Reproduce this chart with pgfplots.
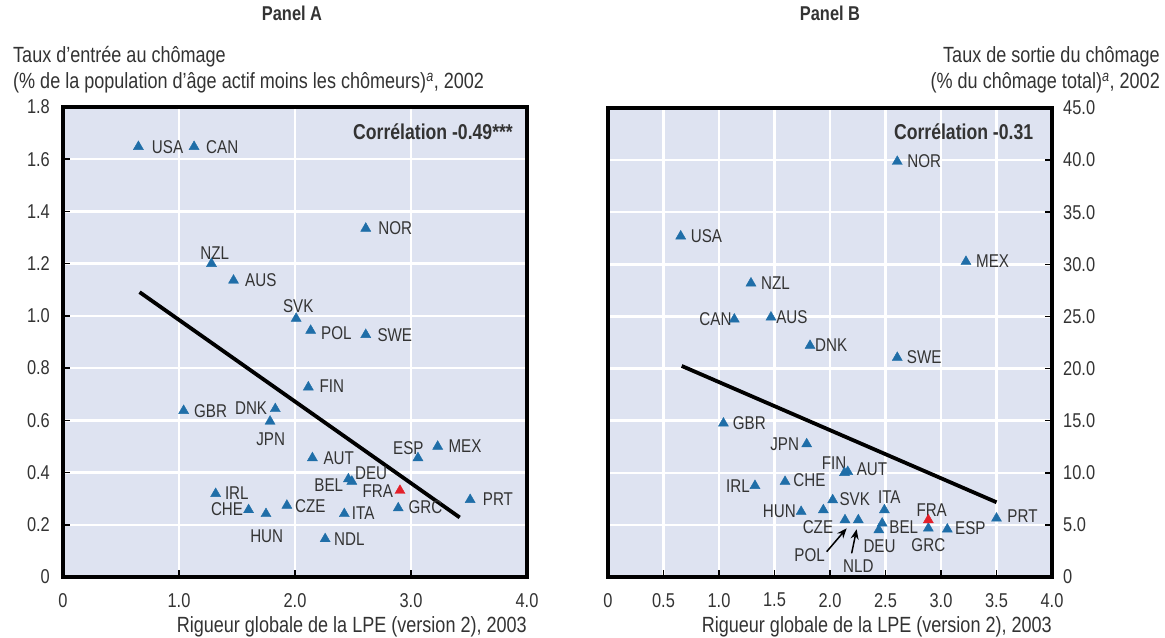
\documentclass[border=0pt]{standalone}
\usepackage{pgfplots}
\pgfplotsset{compat=1.18}
\usetikzlibrary{arrows.meta}
\usepackage{fontspec}
\setmainfont[FakeStretch=0.82]{Liberation Sans}
\definecolor{bg}{HTML}{DEE3F1}
\definecolor{tri}{HTML}{1F6EA8}
\definecolor{fra}{HTML}{E3202A}
\definecolor{txt}{HTML}{333333}
\newcommand{\fs}{\fontsize{18.5}{22}\selectfont}
\newcommand{\ft}{\fontsize{20}{24}\selectfont}
\newcommand{\fl}{\fontsize{22}{26}\selectfont}
\tikzset{lab/.style={font=\fs, text=txt, inner sep=0pt},
         big/.style={font=\fl, text=txt, inner sep=0pt}}
\pgfplotsset{
  myaxis/.style={
    scale only axis, anchor=south west,
    axis background/.style={fill=bg},
    axis line style={draw=none},
    grid=major, grid style={white, line width=2.5pt},
    tick style={black, line width=1.5pt}, major tick length=7pt, tick align=inside,
    /pgf/number format/assume math mode=true,
    ticklabel style={font=\ft, text=txt, inner sep=0pt},
    clip=false,
  },
  tri/.style={only marks, mark=triangle*, mark size=5.8pt, color=tri},
  frap/.style={only marks, mark=triangle*, mark size=5.8pt, color=fra},
}
\begin{document}
\begin{tikzpicture}[x=1pt,y=1pt]
\path (0,0) rectangle (1165,637);
% ---------------- Panel A ----------------
\begin{axis}[myaxis, at={(63pt,60pt)}, width=464pt, height=470pt,
  xmin=0, xmax=4, ymin=0, ymax=1.8,
  xtick={0,1,2,3,4}, xticklabels={0,1.0,2.0,3.0,4.0},
  ytick={0,0.2,0.4,0.6,0.8,1.0,1.2,1.4,1.6,1.8},
  yticklabels={0,0.2,0.4,0.6,0.8,1.0,1.2,1.4,1.6,1.8},
  xtick pos=bottom, ytick pos=left,
  xticklabel style={anchor=north, yshift=-16pt},
  yticklabel style={anchor=east, xshift=-13pt},
]
\addplot[tri] table[row sep=\\] {
x y\\
0.65 1.648\\ 1.13 1.648\\ 2.61 1.335\\ 1.28 1.20\\ 1.47 1.136\\
2.01 0.99\\ 2.135 0.944\\ 2.61 0.928\\ 2.115 0.727\\ 1.04 0.637\\
1.83 0.644\\ 1.785 0.596\\ 2.15 0.456\\ 3.06 0.456\\ 3.23 0.50\\
2.46 0.375\\ 2.49 0.366\\ 1.316 0.319\\ 3.51 0.296\\ 1.93 0.274\\
1.60 0.257\\ 2.89 0.264\\ 1.75 0.242\\ 2.425 0.242\\ 2.26 0.146\\
};
\addplot[frap] table[row sep=\\] {x y\\ 2.905 0.331\\};
\addplot[black, line width=3.8pt, no marks] table[row sep=\\] {x y\\ 0.66 1.091\\ 3.42 0.228\\};
\draw[black, line width=3.5pt] (rel axis cs:0,0) rectangle (rel axis cs:1,1);
\node[lab, anchor=east, font=\fontsize{21.5}{25}\selectfont\bfseries] at (axis cs:3.88,1.707) {Corrélation -0.49***};
\node[lab, anchor=west] at (axis cs:0.765,1.648) {USA};
\node[lab, anchor=west] at (axis cs:1.233,1.648) {CAN};
\node[lab, anchor=west] at (axis cs:2.718,1.335) {NOR};
\node[lab] at (axis cs:1.308,1.24) {NZL};
\node[lab, anchor=west] at (axis cs:1.569,1.136) {AUS};
\node[lab] at (axis cs:2.028,1.038) {SVK};
\node[lab, anchor=west] at (axis cs:2.224,0.935) {POL};
\node[lab, anchor=west] at (axis cs:2.71,0.925) {SWE};
\node[lab, anchor=west] at (axis cs:2.21,0.731) {FIN};
\node[lab, anchor=west] at (axis cs:1.129,0.635) {GBR};
\node[lab, anchor=east] at (axis cs:1.761,0.648) {DNK};
\node[lab] at (axis cs:1.79,0.526) {JPN};
\node[lab, anchor=west] at (axis cs:2.244,0.456) {AUT};
\node[lab] at (axis cs:2.977,0.494) {ESP};
\node[lab, anchor=west] at (axis cs:3.322,0.503) {MEX};
\node[lab, anchor=west] at (axis cs:2.517,0.398) {DEU};
\node[lab, anchor=east] at (axis cs:2.416,0.353) {BEL};
\node[lab, anchor=east] at (axis cs:2.847,0.327) {FRA};
\node[lab, anchor=west] at (axis cs:1.395,0.321) {IRL};
\node[lab, anchor=east] at (axis cs:1.554,0.261) {CHE};
\node[lab, anchor=west] at (axis cs:2.0,0.27) {CZE};
\node[lab] at (axis cs:1.756,0.155) {HUN};
\node[lab, anchor=west] at (axis cs:2.489,0.245) {ITA};
\node[lab, anchor=west] at (axis cs:2.977,0.268) {GRC};
\node[lab, anchor=west] at (axis cs:3.618,0.298) {PRT};
\node[lab, anchor=west] at (axis cs:2.336,0.145) {NDL};
\end{axis}
% ---------------- Panel B ----------------
\begin{axis}[myaxis, at={(608pt,60pt)}, width=444pt, height=469pt,
  xmin=0, xmax=4, ymin=0, ymax=45,
  xtick={0,0.5,1,1.5,2,2.5,3,3.5,4}, xticklabels={0,0.5,1.0,1.5,2.0,2.5,3.0,3.5,4.0},
  ytick={0,5,10,15,20,25,30,35,40,45},
  yticklabels={0,5.0,10.0,15.0,20.0,25.0,30.0,35.0,40.0,45.0},
  xtick pos=bottom, ytick pos=right, yticklabel pos=right,
  xticklabel style={anchor=north, yshift=-16pt},
  yticklabel style={anchor=west, xshift=11pt},
]
\addplot[tri] table[row sep=\\] {
x y\\
2.606 39.86\\ 0.655 32.7\\ 3.225 30.26\\ 1.288 28.19\\ 1.138 24.73\\
1.468 24.92\\ 1.82 22.2\\ 2.606 21.05\\ 1.04 14.75\\ 1.79 12.76\\
2.13 10.0\\ 2.16 10.1\\ 1.324 8.76\\ 1.595 9.15\\ 2.024 7.39\\
1.74 6.27\\ 1.94 6.43\\ 2.49 6.43\\ 2.47 5.15\\ 2.44 4.51\\
2.135 5.47\\ 2.255 5.47\\ 2.886 4.67\\ 3.057 4.58\\ 3.50 5.63\\
};
\addplot[frap] table[row sep=\\] {x y\\ 2.886 5.47\\};
\addplot[black, line width=3.8pt, no marks] table[row sep=\\] {x y\\ 0.664 20.25\\ 3.50 7.17\\};
\draw[black, line width=3.5pt] (rel axis cs:0,0) rectangle (rel axis cs:1,1);
\draw[black, line width=1.5pt, -{Stealth[length=10pt,width=8pt]}] (axis cs:1.97,2.43) -- (axis cs:2.15,4.67);
\draw[black, line width=1.5pt, -{Stealth[length=10pt,width=8pt]}] (axis cs:2.195,2.27) -- (axis cs:2.24,4.58);
\node[lab, anchor=east, font=\fontsize{21.5}{25}\selectfont\bfseries] at (axis cs:3.832,42.68) {Corrélation -0.31};
\node[lab, anchor=west] at (axis cs:2.696,39.86) {NOR};
\node[lab, anchor=west] at (axis cs:0.745,32.73) {USA};
\node[lab, anchor=west] at (axis cs:3.315,30.26) {MEX};
\node[lab, anchor=west] at (axis cs:1.378,28.19) {NZL};
\node[lab, anchor=east] at (axis cs:1.114,24.73) {CAN};
\node[lab, anchor=west] at (axis cs:1.514,24.98) {AUS};
\node[lab, anchor=west] at (axis cs:1.865,22.26) {DNK};
\node[lab, anchor=west] at (axis cs:2.691,21.14) {SWE};
\node[lab, anchor=west] at (axis cs:1.123,14.75) {GBR};
\node[lab, anchor=east] at (axis cs:1.723,12.76) {JPN};
\node[lab] at (axis cs:2.036,10.97) {FIN};
\node[lab, anchor=west] at (axis cs:2.24,10.34) {AUT};
\node[lab, anchor=east] at (axis cs:1.279,8.76) {IRL};
\node[lab, anchor=west] at (axis cs:1.669,9.31) {CHE};
\node[lab, anchor=west] at (axis cs:2.084,7.46) {SVK};
\node[lab] at (axis cs:2.534,7.71) {ITA};
\node[lab, anchor=east] at (axis cs:1.694,6.27) {HUN};
\node[lab] at (axis cs:2.916,6.43) {FRA};
\node[lab, anchor=east] at (axis cs:2.03,4.83) {CZE};
\node[lab, anchor=west] at (axis cs:2.534,4.77) {BEL};
\node[lab, anchor=west] at (axis cs:3.126,4.67) {ESP};
\node[lab, anchor=west] at (axis cs:3.597,5.85) {PRT};
\node[lab, anchor=west] at (axis cs:2.3,2.98) {DEU};
\node[lab] at (axis cs:2.886,3.07) {GRC};
\node[lab, anchor=east] at (axis cs:1.955,2.11) {POL};
\node[lab] at (axis cs:2.255,1.06) {NLD};
\end{axis}
% ---------------- Titles and labels ----------------
\node[lab, font=\fontsize{20}{24}\selectfont\bfseries, anchor=base] at (292,616) {Panel A};
\node[lab, font=\fontsize{20}{24}\selectfont\bfseries, anchor=base] at (830,616) {Panel B};
\node[big, anchor=base west] at (13,574) {Taux d'entrée au chômage};
\node[big, anchor=base west] at (13,548) {(\% de la population d'âge actif moins les chômeurs)\textsuperscript{\itshape a}, 2002};
\node[big, anchor=base east] at (1160,574) {Taux de sortie du chômage};
\node[big, anchor=base east] at (1160,548) {(\% du chômage total)\textsuperscript{\itshape a}, 2002};
\node[big, anchor=base east] at (527,4) {Rigueur globale de la LPE (version 2), 2003};
\node[big, anchor=base east] at (1052,4) {Rigueur globale de la LPE (version 2), 2003};
\end{tikzpicture}
\end{document}
